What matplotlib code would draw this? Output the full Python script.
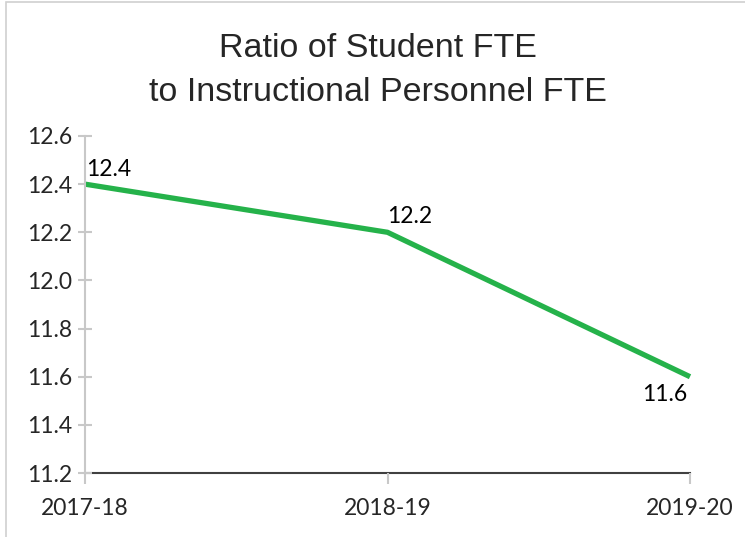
import matplotlib.pyplot as plt
from matplotlib.patches import Rectangle

years = ['2017-18', '2018-19', '2019-20']
ratio = [12.4, 12.2, 11.6]
yticks = [11.2, 11.4, 11.6, 11.8, 12.0, 12.2, 12.4, 12.6]

fig = plt.figure(figsize=(7.45, 5.37), dpi=100)
ax = fig.add_axes([85/745, 64/537, 605/745, 337/537])

x = list(range(len(years)))
ax.plot(x, ratio, color='#25b24a', linewidth=3.8, solid_capstyle='butt', clip_on=False)

# data labels
ax.annotate('12.4', (x[0], ratio[0]), xytext=(1, 3), textcoords='offset points',
            ha='left', va='bottom', fontsize=16.5, fontname='Lato')
ax.annotate('12.2', (x[1], ratio[1]), xytext=(0, 4), textcoords='offset points',
            ha='left', va='bottom', fontsize=16.5, fontname='Lato')
ax.annotate('11.6', (x[2], ratio[2]), xytext=(-18, -5), textcoords='offset points',
            ha='center', va='top', fontsize=16.5, fontname='Lato')

ax.set_xlim(0, 2)
ax.set_ylim(11.2, 12.6)
ax.set_yticks(yticks)
ax.set_yticklabels([f'{v:.1f}' for v in yticks])
ax.set_xticks(x)
ax.set_xticklabels(years)

for s in ['top', 'right']:
    ax.spines[s].set_visible(False)
ax.spines['left'].set_color('#c8c8c8')
ax.spines['left'].set_linewidth(1.5)
ax.spines['bottom'].set_color('#404040')
ax.spines['bottom'].set_linewidth(1.5)
ax.spines['bottom'].set_zorder(1)

ax.tick_params(axis='y', direction='inout', length=10, width=1.5, color='#c8c8c8',
               labelsize=16.5, labelcolor='#262626', pad=4)
ax.tick_params(axis='x', direction='out', length=8, width=1.5, color='#c8c8c8',
               labelsize=16.5, labelcolor='#262626', pad=10)
for lab in ax.get_xticklabels() + ax.get_yticklabels():
    lab.set_fontname('Lato')

fig.text(0.507, 0.869, 'Ratio of Student FTE\nto Instructional Personnel FTE',
         ha='center', va='center', fontsize=24.5, fontname='Liberation Sans',
         color='#262626', linespacing=1.56)

# light frame around the chart
fig.patches.append(Rectangle((0.008, -0.01), 1.0, 1.0 - 2/537 + 0.01, transform=fig.transFigure,
                             fill=False, edgecolor='#d0d0d0', linewidth=1.2))

fig.savefig('out.png', dpi=100)
